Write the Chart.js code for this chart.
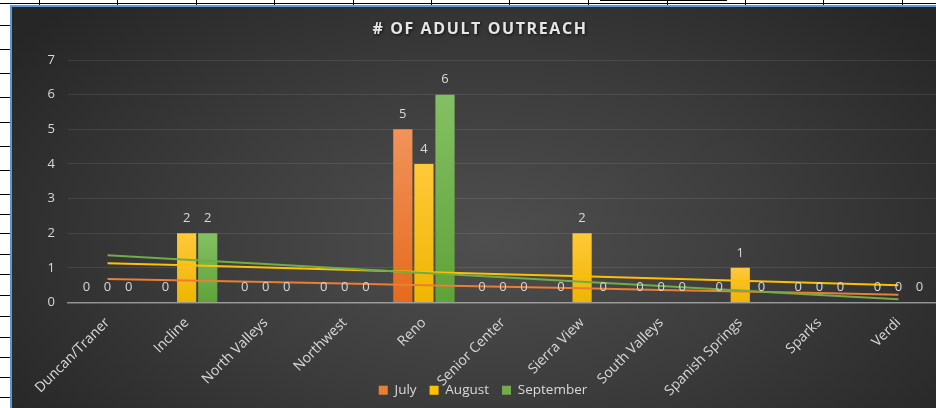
<!DOCTYPE html>
<html>
<head>
<meta charset="utf-8">
<script src="https://cdn.jsdelivr.net/npm/chart.js@4.4.1/dist/chart.umd.min.js"></script>
<style>
  html, body { margin: 0; padding: 0; background: #fff; overflow: hidden; width: 936px; height: 408px; }
  .sheet-line { position: absolute; background: #000; }
  #frame {
    position: absolute; left: 10px; top: 5px; width: 945px; height: 420px;
    border-left: 2px solid #5b9bd5; border-top: 2px solid #5b9bd5;
    background: radial-gradient(ellipse 62% 78% at 50% 55%, #4f4f4f 0%, #3c3c3c 50%, #262626 100%);
  }
  #chart { position: absolute; left: 0; top: 0; }
</style>
</head>
<body>
<div id="sheet"></div>
<div id="frame"><canvas id="chart" width="945" height="413"></canvas></div>
<script>
(function () {
  "use strict";

  // ── Data ───────────────────────────────────────────────────────
  var sites = ["Duncan/Traner", "Incline", "North Valleys", "Northwest", "Reno",
    "Senior Center", "Sierra View", "South Valleys", "Spanish Springs", "Sparks", "Verdi"];
  var july = [0, 0, 0, 0, 5, 0, 0, 0, 0, 0, 0];
  var august = [0, 2, 0, 0, 4, 0, 2, 0, 1, 0, 0];
  var september = [0, 2, 0, 0, 6, 0, 0, 0, 0, 0, 0];
  var yTicks = [0, 1, 2, 3, 4, 5, 6, 7];
  var title = "# OF ADULT OUTREACH";

  var ORANGE = { mid: "#ed7d31", top: "#f2935a", bot: "#e56a1c" };
  var GOLD = { mid: "#ffc000", top: "#ffc93a", bot: "#eeb500" };
  var GREEN = { mid: "#70ad47", top: "#84c063", bot: "#5fa238" };
  var TEXT = "#d9d9d9";
  var FONT = "'Open Sans', sans-serif";

  // ── Spreadsheet gridlines peeking out around the chart ─────────
  var sheet = document.getElementById("sheet");
  function line(x, y, w, h) {
    var d = document.createElement("div");
    d.className = "sheet-line";
    d.style.left = x + "px"; d.style.top = y + "px";
    d.style.width = w + "px"; d.style.height = h + "px";
    sheet.appendChild(d);
  }
  line(0, 3, 936, 1);
  line(600, 0, 127, 1);
  [39, 117, 196, 274, 353, 431, 509, 588, 667, 745, 823, 902].forEach(function (x) { line(x, 0, 1, 5); });
  [25, 49, 73, 97, 122, 146, 170, 194, 214, 233, 254, 274, 295, 316, 337, 357, 377, 397].forEach(function (y) { line(0, y, 10, 1); });

  // ── Linear trendline (least squares) over category index ───────
  function trend(values) {
    var n = values.length, sx = 0, sy = 0, sxy = 0, sxx = 0;
    values.forEach(function (v, i) { sx += i; sy += v; sxy += i * v; sxx += i * i; });
    var slope = (n * sxy - sx * sy) / (n * sxx - sx * sx);
    var icpt = (sy - slope * sx) / n;
    return values.map(function (_, i) { return icpt + slope * i; });
  }

  // Vertical shading per bar, light at the top and darker at the base.
  function barFill(c3) {
    return function (c) {
      var ch = c.chart;
      if (c.type !== "data" || !ch.chartArea || !ch.scales.y) return c3.mid;
      var top = ch.scales.y.getPixelForValue(c.raw), bot = ch.scales.y.getPixelForValue(0);
      if (!(bot - top > 1)) return c3.mid;
      var g = ch.ctx.createLinearGradient(0, top, 0, bot);
      g.addColorStop(0, c3.top);
      g.addColorStop(1, c3.bot);
      return g;
    };
  }

  // Title (letter-spaced, with a soft shadow), value labels, and
  // let the rotated x labels run into the legend band like Excel does.
  var extras = {
    id: "extras",
    afterLayout: function (chart) {
      chart.scales.x.bottom = chart.height;
    },
    afterDatasetsDraw: function (chart) {
      var ctx = chart.ctx;
      ctx.save();
      ctx.font = "13px " + FONT;
      ctx.fillStyle = TEXT;
      ctx.textAlign = "center";
      ctx.textBaseline = "middle";
      chart.data.datasets.forEach(function (ds, di) {
        if (ds.type !== "bar") return;
        chart.getDatasetMeta(di).data.forEach(function (el, i) {
          ctx.fillText(String(ds.data[i]), el.x, el.y - 15);
        });
      });

      ctx.font = "bold 16px " + FONT;
      if ("letterSpacing" in ctx) ctx.letterSpacing = "1.6px";
      ctx.fillStyle = "#e6e6e6";
      ctx.shadowColor = "rgba(0,0,0,0.7)";
      ctx.shadowBlur = 3;
      ctx.shadowOffsetX = 1;
      ctx.shadowOffsetY = 1;
      ctx.fillText(title, 468, 22);
      ctx.restore();
    }
  };

  function barSet(label, data, c3) {
    return {
      type: "bar", label: label, data: data,
      backgroundColor: barFill(c3), borderWidth: 0,
      categoryPercentage: 0.8, barPercentage: 0.91, order: 0
    };
  }
  function trendSet(data, c3, order) {
    return {
      type: "line", label: "trend", data: trend(data),
      borderColor: c3.mid, borderWidth: 2, pointRadius: 0,
      fill: false, tension: 0, order: order
    };
  }

  new Chart(document.getElementById("chart"), {
    data: {
      labels: sites,
      datasets: [
        barSet("July", july, ORANGE),
        barSet("August", august, GOLD),
        barSet("September", september, GREEN),
        trendSet(july, ORANGE, -1),
        trendSet(august, GOLD, -2),
        trendSet(september, GREEN, -3)
      ]
    },
    plugins: [extras],
    options: {
      responsive: false,
      animation: false,
      layout: { padding: { left: 16, right: 19, top: 53, bottom: 13 } },
      plugins: {
        tooltip: { enabled: false },
        title: { display: false },
        legend: {
          position: "bottom",
          labels: {
            color: TEXT,
            font: { family: FONT, size: 13.5 },
            boxWidth: 9, boxHeight: 9, padding: 13,
            filter: function (item, data) { return data.datasets[item.datasetIndex].type === "bar"; }
          }
        }
      },
      scales: {
        x: {
          grid: { display: false, drawTicks: false },
          border: { display: true, color: "rgba(217,217,217,0.55)", width: 1.5 },
          ticks: { color: TEXT, font: { family: FONT, size: 14 }, minRotation: 45, maxRotation: 45, padding: 12, autoSkip: false },
          afterFit: function (s) { s.height = 68; }
        },
        y: {
          min: 0, max: 7,
          grid: { color: "rgba(255,255,255,0.09)", drawTicks: false },
          border: { display: false },
          ticks: {
            color: TEXT, font: { family: FONT, size: 13 }, padding: 13, stepSize: 1,
            callback: function (v) { return yTicks.indexOf(v) >= 0 ? v : ""; }
          },
          afterFit: function (s) { s.width = 40; }
        }
      }
    }
  });
})();
</script>
</body>
</html>
